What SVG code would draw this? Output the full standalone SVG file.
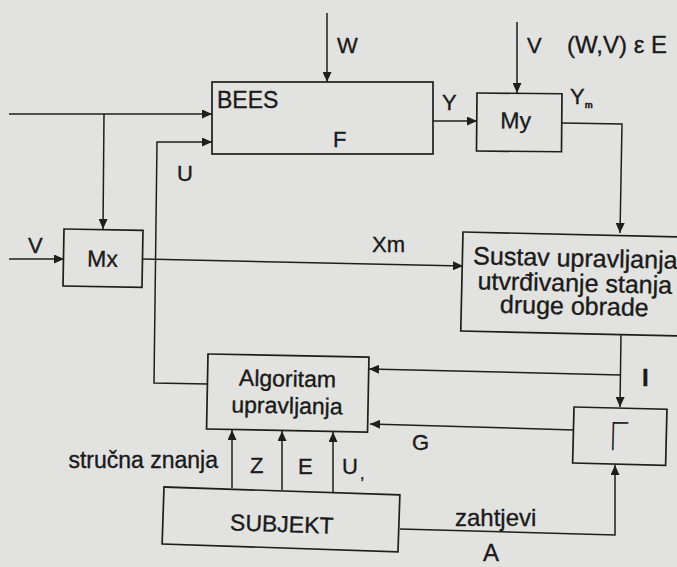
<svg xmlns="http://www.w3.org/2000/svg" width="677" height="567" viewBox="0 0 677 567">
<defs>
<marker id="ah" viewBox="0 0 10 9" refX="10" refY="4.5" markerWidth="10" markerHeight="9" markerUnits="userSpaceOnUse" orient="auto">
<path d="M0,0 L10,4.5 L0,9 z" fill="#1e1e1e"/>
</marker>
</defs>
<style>
.bx{fill:none;stroke:#1e1e1e;stroke-width:1.7}
.ln{fill:none;stroke:#1e1e1e;stroke-width:1.5;marker-end:url(#ah)}
text{font-family:"Liberation Sans",Arial,sans-serif;fill:#1a1a1a;stroke:#1a1a1a;stroke-width:0.35px;font-size:23px}
.lb{font-size:22px}
.big{font-size:25px}
.c{text-anchor:middle}
</style>
<rect x="0" y="0" width="677" height="567" fill="#e2e2e0"/>

<g id="connectors">
<polyline class="ln" points="9,114 212,114"/>
<polyline class="ln" points="104,114 103,229"/>
<polyline class="ln" points="208,384 154,383 157,142 212,142"/>
<polyline class="ln" points="327,13 327,82"/>
<polyline class="ln" points="433,121 477,121"/>
<polyline class="ln" points="517,22 517,93"/>
<polyline class="ln" points="562,123 622,124 620,233"/>
<polyline class="ln" points="9,259 64,259"/>
<polyline class="ln" points="143,259 463,266"/>
<polyline class="ln" points="621,334 620,407"/>
<polyline class="ln" points="621,375 369,369"/>
<polyline class="ln" points="574,430 370,424"/>
<polyline class="ln" points="232,488 232,430"/>
<polyline class="ln" points="282,490 282,431"/>
<polyline class="ln" points="333,492 333,432"/>
<polyline class="ln" points="400,529 615,535 615,465"/>
</g>

<g id="labels">
<text class="lb" x="337" y="53">W</text>
<text class="lb" x="527" y="53">V</text>
<text x="567" y="53" style="font-size:24px">(W,V) ε E</text>
<text class="lb" x="442" y="110">Y</text>
<text class="lb" x="570" y="104">Y<tspan style="font-size:9px;font-weight:bold" dy="4">m</tspan></text>
<text class="lb" x="177" y="181">U</text>
<text class="lb" x="28" y="253">V</text>
<text class="lb" x="372" y="252">Xm</text>
<text class="lb" x="642" y="386" style="font-size:24px;font-weight:bold">I</text>
<text class="lb" x="412" y="450">G</text>
<text x="218" y="468" style="text-anchor:end">stručna znanja</text>
<text class="lb" x="250" y="473">Z</text>
<text class="lb" x="298" y="474">E</text>
<text class="lb" x="342" y="474">U<tspan style="font-size:16px" dx="2" dy="5">,</tspan></text>
<text x="455" y="526" style="font-size:24px">zahtjevi</text>
<text x="483" y="561" style="font-size:24px">A</text>
</g>

<g id="bees">
<rect class="bx" x="212" y="82" width="221" height="72"/>
<text x="217" y="108">BEES</text>
<text class="lb" x="333" y="147">F</text>
</g>

<g id="my" transform="rotate(0.5 477 93)">
<rect class="bx" x="477" y="93" width="85" height="58"/>
<text class="c" x="516" y="128">My</text>
</g>

<g id="mx" transform="rotate(1 64 229)">
<rect class="bx" x="64" y="229" width="79" height="57"/>
<text class="c" x="103" y="266">Mx</text>
</g>

<g id="sustav" transform="rotate(1.3 463 232)">
<rect class="bx" x="463" y="232" width="232" height="99"/>
<text class="big c" x="576" y="264">Sustav upravljanja</text>
<text class="big c" x="576" y="289">utvrđivanje stanja</text>
<text class="big c" x="576" y="312">druge obrade</text>
</g>

<g id="algoritam" transform="rotate(1.1 208 354)">
<rect class="bx" x="208" y="354" width="161" height="75"/>
<text class="c" x="288" y="385">Algoritam</text>
<text class="c" x="288" y="412">upravljanja</text>
</g>

<g id="gamma" transform="rotate(1.4 574 407)">
<rect class="bx" x="574" y="407" width="93" height="56"/>
<text x="609" y="449" style="font-family:Inter,'Noto Sans','Liberation Sans',sans-serif;font-weight:100;font-size:38px;stroke-width:0.6px">Γ</text>
</g>

<g id="subjekt" transform="rotate(1.9 164 487)">
<rect class="bx" x="164" y="487" width="236" height="57"/>
<text class="c" x="283" y="528">SUBJEKT</text>
</g>
</svg>
